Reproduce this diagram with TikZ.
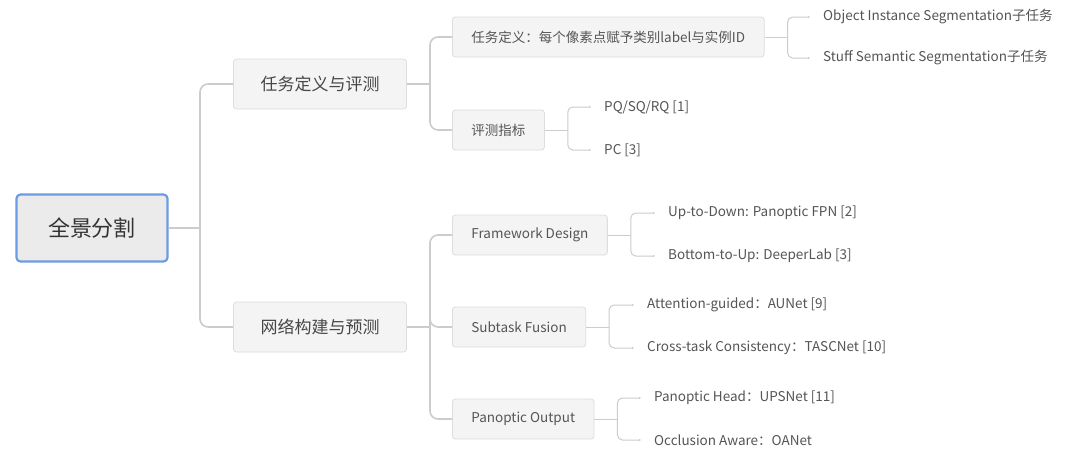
\documentclass[tikz,border=0pt]{standalone}
\usepackage{fontspec}
\setmainfont{Noto Sans CJK SC}
\usetikzlibrary{arrows.meta}
\definecolor{linegray}{HTML}{CCCCCC}
\definecolor{boxfill}{HTML}{F4F4F4}
\definecolor{rootfill}{HTML}{EBEBEB}
\definecolor{boxline}{HTML}{DDDDDD}
\definecolor{rootblue}{HTML}{6C9CE3}
\definecolor{txt}{HTML}{555555}
\tikzset{
  rootbox/.style={draw=rootblue, line width=2.2pt, fill=rootfill, rounded corners=4pt,
    minimum width=151pt, minimum height=67pt, font=\fontsize{22}{26}\selectfont, text=black!80},
  topicbox/.style={draw=boxline, fill=boxfill, rounded corners=3pt, line width=0.8pt,
    minimum width=173pt, minimum height=50pt, font=\fontsize{17}{20}\selectfont, text=black!72},
  subbox/.style={draw=boxline, fill=boxfill, rounded corners=3pt, line width=0.8pt, anchor=west,
    inner xsep=19pt, minimum height=40pt, font=\fontsize{13.5}{16}\selectfont, text=txt},
  leaf/.style={anchor=west, inner xsep=0pt, font=\fontsize{13.5}{16}\selectfont, text=txt},
  link/.style={draw=linegray, line width=1.6pt, rounded corners=8pt},
  twig/.style={draw=linegray, line width=1pt, rounded corners=5pt, -{Latex[length=2pt,width=2.5pt]}, shorten >=13pt},
}
\begin{document}
\begin{tikzpicture}[x=1pt,y=-1pt]
  \useasboundingbox[fill=white] (0,0) rectangle (1080,461);
  % root and first level
  \node[rootbox] (root) at (92,228) {全景分割};
  \node[topicbox] (task) at (320,84) {任务定义与评测};
  \node[topicbox] (net) at (320,327) {网络构建与预测};
  \coordinate (jroot) at (200,228);
  \draw[link] (root.east) -- (jroot);
  \draw[link] (jroot) |- (task.west);
  \draw[link] (jroot) |- (net.west);
  % second level
  \node[subbox] (def) at (452,37) {任务定义：每个像素点赋予类别label与实例ID};
  \node[subbox] (metric) at (452,130) {评测指标};
  \node[subbox] (frame) at (452,235) {Framework Design};
  \node[subbox] (fusion) at (452,327) {Subtask Fusion};
  \node[subbox] (output) at (452,419) {Panoptic Output};
  \coordinate (jtask) at (430,84);
  \coordinate (jnet) at (430,327);
  \draw[link] (task.east) -- (jtask);
  \draw[link] (net.east) -- (jnet);
  \foreach \n in {def,metric} \draw[link] (jtask) |- (\n.west);
  \foreach \n in {frame,fusion,output} \draw[link] (jnet) |- (\n.west);
  % leaves
  \node[leaf] (obj) at (823,17) {Object Instance Segmentation子任务};
  \node[leaf] (stuff) at (823,58) {Stuff Semantic Segmentation子任务};
  \node[leaf] (pq) at (604,107) {PQ/SQ/RQ [1]};
  \node[leaf] (pc) at (604,150) {PC [3]};
  \node[leaf] (updown) at (668,213) {Up-to-Down: Panoptic FPN [2]};
  \node[leaf] (bottomup) at (668,256) {Bottom-to-Up: DeeperLab [3]};
  \node[leaf] (attn) at (647,305) {Attention-guided：AUNet [9]};
  \node[leaf] (cross) at (647,348) {Cross-task Consistency：TASCNet [10]};
  \node[leaf] (head) at (654,398) {Panoptic Head：UPSNet [11]};
  \node[leaf] (occ) at (654,440) {Occlusion Aware：OANet};
  \foreach \p/\a/\b in {def/obj/stuff, metric/pq/pc, frame/updown/bottomup,
                        fusion/attn/cross, output/head/occ}{
    \coordinate (j\p) at ([xshift=23pt]\p.east);
    \draw[link, line width=1pt] (\p.east) -- (j\p);
    \draw[twig] (j\p) |- (\a.west);
    \draw[twig] (j\p) |- (\b.west);
  }
\end{tikzpicture}
\end{document}
